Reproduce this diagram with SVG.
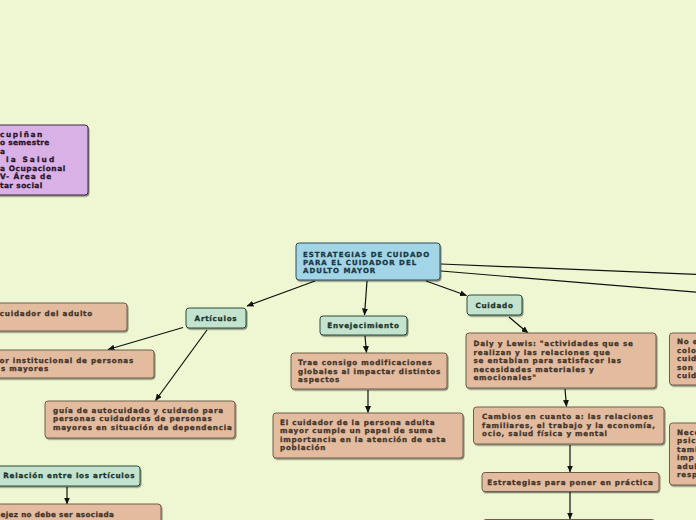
<svg xmlns="http://www.w3.org/2000/svg" width="696" height="520" viewBox="0 0 696 520">
<defs>
<filter id="sh" x="-10%" y="-20%" width="120%" height="150%">
<feDropShadow dx="1" dy="1.3" stdDeviation="0.6" flood-color="#000" flood-opacity="0.45"/>
</filter>
<marker id="ar" markerWidth="7" markerHeight="6" refX="6.5" refY="3" orient="auto" markerUnits="userSpaceOnUse">
<path d="M0,0 L7,3 L0,6 z" fill="#111"/>
</marker>
<style>
.bx{stroke-width:1;filter:url(#sh)}
.tan{fill:#e3bc9f;stroke:#6e5c4c}
.grn{fill:#c3e3cf;stroke:#2c4a3c}
.blu{fill:#a2d5e5;stroke:#2f4d5c}
.pur{fill:#dab1e6;stroke:#3a2842}
text{font-family:"DejaVu Sans","Liberation Sans",sans-serif;font-weight:bold;font-size:7.2px;letter-spacing:0.75px;stroke-width:0.3px}
.tt{fill:#43352b;stroke:#43352b}
.gt{fill:#1c352a;stroke:#1c352a}
.bt{fill:#1b3745;stroke:#1b3745;font-size:7px;letter-spacing:1px}
.pt{fill:#26162c;stroke:#26162c;font-size:7.4px}
.c{text-anchor:middle}
.e{text-anchor:end}
.ln{stroke:#111;stroke-width:1.2;fill:none}
.la{marker-end:url(#ar)}
</style>
</defs>
<rect width="696" height="520" fill="#eef7d1"/>

<g id="connectors">
<line class="ln la" x1="315" y1="281" x2="247" y2="306"/>
<line class="ln la" x1="367" y1="281" x2="364.5" y2="315"/>
<line class="ln la" x1="426" y1="281" x2="466.5" y2="295.5"/>
<line class="ln" x1="441" y1="264" x2="700" y2="274.5"/>
<line class="ln" x1="441" y1="271" x2="700" y2="292.5"/>
<line class="ln la" x1="183" y1="327.5" x2="108" y2="349.5"/>
<line class="ln la" x1="207" y1="330" x2="155.5" y2="400.5"/>
<line class="ln la" x1="365" y1="336" x2="366.5" y2="352.5"/>
<line class="ln la" x1="368" y1="390" x2="368" y2="412.5"/>
<line class="ln la" x1="509" y1="317" x2="528" y2="333"/>
<line class="ln la" x1="565" y1="389" x2="566.5" y2="406.5"/>
<line class="ln la" x1="570" y1="445" x2="570" y2="472"/>
<line class="ln la" x1="570" y1="492" x2="570" y2="519"/>
<line class="ln la" x1="67" y1="487" x2="67" y2="504"/>
</g>

<g id="info">
<rect class="bx pur" x="-5" y="125" width="93" height="70" rx="3"/>
<text class="pt" x="0" y="136.5" textLength="43" lengthAdjust="spacing">cupiñan</text>
<text class="pt" x="0" y="145" textLength="50" lengthAdjust="spacing">o semestre</text>
<text class="pt" x="0" y="153.5">a</text>
<text class="pt" x="6" y="162" textLength="49" lengthAdjust="spacing">la Salud</text>
<text class="pt" x="0" y="170.5" textLength="66" lengthAdjust="spacing">a Ocupacional</text>
<text class="pt" x="0" y="179" textLength="52" lengthAdjust="spacing">V- Área de</text>
<text class="pt" x="0" y="187.5" textLength="43" lengthAdjust="spacing">tar social</text>
</g>

<g id="main">
<rect class="bx blu" x="296" y="243" width="144" height="37" rx="3"/>
<text class="bt" x="303" y="256.5">ESTRATEGIAS DE CUIDADO</text>
<text class="bt" x="303" y="264.8">PARA EL CUIDADOR DEL</text>
<text class="bt" x="303" y="273">ADULTO MAYOR</text>
</g>

<g id="articulos">
<rect class="bx grn" x="186" y="308" width="60" height="20" rx="3"/>
<text class="gt c" x="216" y="320.5">Artículos</text>
</g>

<g id="envejecimiento">
<rect class="bx grn" x="320" y="316" width="87" height="19" rx="3"/>
<text class="gt c" x="363.5" y="328">Envejecimiento</text>
</g>

<g id="cuidado">
<rect class="bx grn" x="467" y="295" width="55" height="20" rx="3"/>
<text class="gt c" x="494.5" y="307.5">Cuidado</text>
</g>

<g id="relacion">
<rect class="bx grn" x="-5" y="466" width="145" height="20" rx="3"/>
<text class="gt" x="3.3" y="477.5">Relación entre los artículos</text>
</g>

<g id="art1">
<rect class="bx tan" x="-5" y="303" width="132" height="28" rx="3"/>
<text class="tt e" x="93" y="316">cuidador del adulto</text>
</g>

<g id="art2">
<rect class="bx tan" x="-5" y="350" width="159" height="28" rx="3"/>
<text class="tt e" x="134" y="363">dor institucional de personas</text>
<text class="tt e" x="49" y="371">s mayores</text>
</g>

<g id="art3">
<rect class="bx tan" x="45" y="401" width="190" height="37" rx="3"/>
<text class="tt" x="53" y="413">guía de autocuidado y cuidado para</text>
<text class="tt" x="53" y="421.3">personas cuidadoras de personas</text>
<text class="tt" x="53" y="429.6">mayores en situación de dependencia</text>
</g>

<g id="vejez">
<rect class="bx tan" x="-5" y="504" width="166" height="30" rx="3"/>
<text class="tt" x="0.5" y="517" textLength="114" lengthAdjust="spacing">ejez no debe ser asociada</text>
</g>

<g id="trae">
<rect class="bx tan" x="291" y="353" width="156" height="36" rx="3"/>
<text class="tt" x="298" y="365">Trae consigo modificaciones</text>
<text class="tt" x="298" y="373.5">globales al impactar distintos</text>
<text class="tt" x="298" y="382">aspectos</text>
</g>

<g id="cuidador">
<rect class="bx tan" x="273" y="413" width="190" height="45" rx="3"/>
<text class="tt" x="280" y="425">El cuidador de la persona adulta</text>
<text class="tt" x="280" y="433.4">mayor cumple un papel de suma</text>
<text class="tt" x="280" y="441.8">importancia en la atención de esta</text>
<text class="tt" x="280" y="450.2">población</text>
</g>

<g id="daly">
<rect class="bx tan" x="466" y="333" width="190" height="55" rx="3"/>
<text class="tt" x="473.5" y="346">Daly y Lewis: "actividades que se</text>
<text class="tt" x="473.5" y="354.6">realizan y las relaciones que</text>
<text class="tt" x="473.5" y="363.2">se entablan para satisfacer las</text>
<text class="tt" x="473.5" y="371.8">necesidades materiales y</text>
<text class="tt" x="473.5" y="380.4">emocionales"</text>
</g>

<g id="cambios">
<rect class="bx tan" x="473.5" y="407" width="190.5" height="37" rx="3"/>
<text class="tt" x="482" y="419">Cambios en cuanto a: las relaciones</text>
<text class="tt" x="482" y="427.5">familiares, el trabajo y la economía,</text>
<text class="tt" x="482" y="436">ocio, salud física y mental</text>
</g>

<g id="estrategias">
<rect class="bx tan" x="482" y="472.5" width="177" height="19" rx="3"/>
<text class="tt c" x="570.5" y="485">Estrategias para poner en práctica</text>
</g>

<g id="bottom">
<rect class="bx tan" x="483" y="519.5" width="172" height="20" rx="3"/>
</g>

<g id="noe">
<rect class="bx tan" x="669.5" y="333" width="40" height="52" rx="3"/>
<text class="tt" x="677" y="344">No e</text>
<text class="tt" x="677" y="352.6">colo</text>
<text class="tt" x="677" y="361.2">cuid</text>
<text class="tt" x="677" y="369.8">son</text>
<text class="tt" x="677" y="378.4">cuid</text>
</g>

<g id="nece">
<rect class="bx tan" x="669.5" y="423" width="40" height="62" rx="3"/>
<text class="tt" x="677" y="434.5">Nece</text>
<text class="tt" x="677" y="443">psic</text>
<text class="tt" x="677" y="451.6">tami</text>
<text class="tt" x="677" y="460.2">imp</text>
<text class="tt" x="677" y="468.8">adul</text>
<text class="tt" x="677" y="477.4">resp</text>
</g>
</svg>
